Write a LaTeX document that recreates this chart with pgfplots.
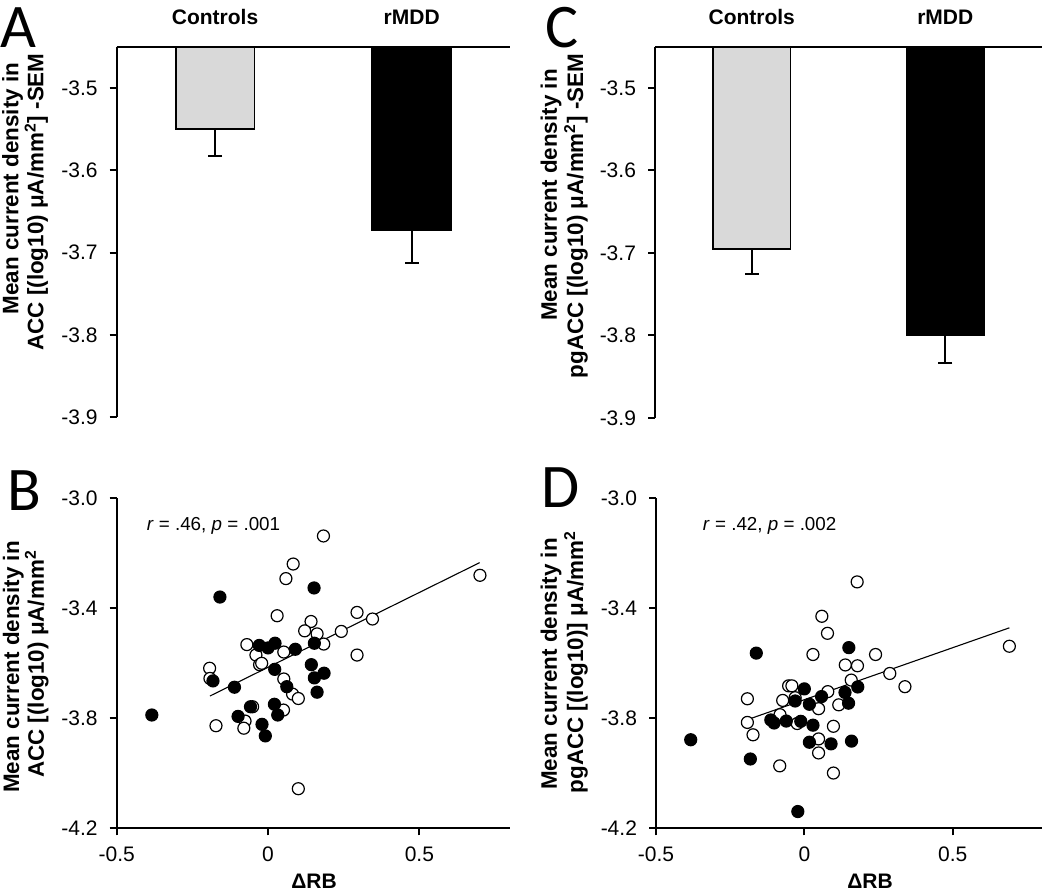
\documentclass[border=0pt]{standalone}
\usepackage{fontspec}
\setmainfont{Liberation Sans}
\newfontfamily\letterfont{Carlito}
\usepackage{pgfplots}
\pgfplotsset{compat=1.18}
\definecolor{barGray}{HTML}{D9D9D9}

\pgfplotsset{
  base/.style={
    scale only axis,
    anchor=south west,
    axis line style={line width=1pt, black},
    tick align=outside,
    major tick length=3.5pt,
    every tick/.style={line width=1pt, black},
    tick label style={font=\fontsize{10.5}{12}\selectfont},
  },
  scat/.style={base,
    axis x line*=bottom, axis y line*=left,
    xmin=-0.5, xmax=0.8, ymin=-4.2, ymax=-3.0,
    xtick={-0.5,0,0.5}, xticklabels={-0.5,0,0.5},
    ytick={-4.2,-3.8,-3.4,-3.0}, yticklabels={-4.2,-3.8,-3.4,-3.0},
    height=165pt,
    clip=false,
    x tick label style={yshift=-2pt},
    y tick label style={xshift=-2.5pt},
  },
  barax/.style={base,
    axis x line*=top, axis y line*=left,
    xmin=0, xmax=2, ymin=-3.9, ymax=-3.45,
    xtick={0.5,1.5}, xticklabels={Controls,rMDD},
    x tick label style={font=\fontsize{10.5}{12}\selectfont\bfseries, yshift=4pt},
    major x tick style={draw=none},
    ytick={-3.9,-3.8,-3.7,-3.6,-3.5}, yticklabels={-3.9,-3.8,-3.7,-3.6,-3.5},
    y tick label style={xshift=-2.5pt},
    clip=true,
  },
  opencirc/.style={only marks, mark=*, mark size=3pt, mark options={fill=white, draw=black, line width=0.6pt}},
  fillcirc/.style={only marks, mark=*, mark size=3pt, mark options={fill=black, draw=black, line width=0.6pt}},
  regline/.style={no marks, black, line width=0.55pt},
  barplot/.style={ybar, bar width=0.4, bar shift=0pt, draw=black, line width=0.85pt,
    error bars/.cd, y dir=minus, y explicit,
    error mark=-,
    error bar style={line width=1pt, black},
    error mark options={rotate=90, line width=1pt, mark size=3.5pt, black},
    /pgfplots/.cd},
}

\newcommand{\labfont}{\fontsize{11.2}{13}\selectfont\bfseries}

\begin{document}
\begin{tikzpicture}
\useasboundingbox (0,0) rectangle (525pt,445.5pt);

% ---------------- Panel A ----------------
\begin{axis}[barax, at={(58.35pt,236.85pt)}, width=196.65pt, height=185.3pt]
\addplot[fill=barGray, barplot] coordinates {(0.5,-3.550) -= (0,0.033)};
\addplot[fill=black, barplot] coordinates {(1.5,-3.673) -= (0,0.040)};
\end{axis}

% ---------------- Panel C ----------------
\begin{axis}[barax, at={(327.5pt,236.5pt)}, width=193.5pt, height=185.65pt]
\addplot[fill=barGray, barplot] coordinates {(0.5,-3.695) -= (0,0.030)};
\addplot[fill=black, barplot] coordinates {(1.5,-3.800) -= (0,0.033)};
\end{axis}

% ---------------- Panel B ----------------
\begin{axis}[scat, at={(58.35pt,31.35pt)}, width=196.75pt]
\addplot[regline] coordinates {(-0.192,-3.719) (0.699,-3.234)};
\addplot[opencirc] coordinates {
(0.183,-3.137) (0.083,-3.239) (0.059,-3.292) (0.700,-3.280) (0.030,-3.427)
(0.294,-3.415) (0.345,-3.439) (0.142,-3.448) (0.242,-3.484) (0.121,-3.482)
(0.162,-3.493) (0.184,-3.530) (-0.070,-3.532) (0.294,-3.570) (0.052,-3.559)
(-0.040,-3.570) (-0.028,-3.605) (-0.021,-3.600) (-0.193,-3.618) (-0.192,-3.655)
(0.052,-3.657) (0.081,-3.712) (0.100,-3.728) (-0.051,-3.758) (0.051,-3.770)
(-0.172,-3.827) (-0.076,-3.810) (-0.080,-3.836) (0.100,-4.056)};
\addplot[fillcirc] coordinates {
(-0.159,-3.359) (0.152,-3.326) (-0.029,-3.535) (0.000,-3.544) (0.023,-3.527)
(0.090,-3.549) (0.153,-3.527) (0.143,-3.605) (0.022,-3.622) (0.153,-3.653)
(0.185,-3.636) (-0.182,-3.664) (-0.111,-3.687) (0.062,-3.685) (0.162,-3.705)
(-0.384,-3.788) (-0.099,-3.793) (-0.058,-3.758) (0.021,-3.749) (0.032,-3.788)
(-0.020,-3.822) (-0.009,-3.864)};
\node[anchor=base west, font=\fontsize{9.4}{11}\selectfont, inner sep=0pt] at (axis cs:-0.402,-3.118) {\textit{r} = .46, \textit{p} = .001};
\end{axis}

% ---------------- Panel D ----------------
\begin{axis}[scat, at={(328pt,31.35pt)}, width=192.85pt]
\addplot[regline] coordinates {(-0.192,-3.805) (0.691,-3.471)};
\addplot[opencirc] coordinates {
(0.178,-3.304) (0.059,-3.429) (0.078,-3.491) (0.691,-3.538) (0.029,-3.568)
(0.240,-3.568) (0.138,-3.606) (0.179,-3.609) (0.288,-3.637) (0.158,-3.661)
(0.339,-3.685) (-0.053,-3.682) (-0.042,-3.682) (0.079,-3.703) (-0.192,-3.729)
(-0.073,-3.735) (-0.031,-3.725) (0.116,-3.751) (0.048,-3.765) (-0.082,-3.787)
(-0.192,-3.815) (-0.024,-3.819) (0.098,-3.829) (-0.173,-3.860) (0.048,-3.875)
(0.048,-3.926) (-0.083,-3.973) (0.098,-3.999)};
\addplot[fillcirc] coordinates {
(0.150,-3.543) (-0.162,-3.563) (0.000,-3.693) (0.180,-3.686) (0.137,-3.706)
(0.058,-3.721) (-0.031,-3.737) (0.017,-3.749) (0.149,-3.745) (-0.113,-3.806)
(-0.102,-3.817) (-0.061,-3.810) (-0.012,-3.811) (0.029,-3.825) (-0.383,-3.878)
(0.017,-3.887) (0.090,-3.893) (0.159,-3.883) (-0.182,-3.948) (-0.022,-4.139)};
\node[anchor=base west, font=\fontsize{9.4}{11}\selectfont, inner sep=0pt] at (axis cs:-0.343,-3.118) {\textit{r} = .42, \textit{p} = .002};
\end{axis}

% ---------------- Labels ----------------
\node[rotate=90, font=\labfont, inner sep=0pt] at (6.25pt,351.25pt) {Mean current density in};
\node[rotate=90, font=\labfont, inner sep=0pt] at (18.2pt,344.5pt) {ACC [(log10) μA/mm\textsuperscript{2}] -SEM};
\node[rotate=90, font=\labfont, inner sep=0pt] at (275.5pt,348pt) {Mean current density in};
\node[rotate=90, font=\labfont, inner sep=0pt] at (288pt,337.5pt) {pgACC [(log10) μA/mm\textsuperscript{2}] -SEM};
\node[rotate=90, font=\labfont, inner sep=0pt] at (6.65pt,112pt) {Mean current density in};
\node[rotate=90, font=\labfont, inner sep=0pt] at (18.35pt,113.5pt) {ACC [(log10) μA/mm\textsuperscript{2}};
\node[rotate=90, font=\labfont, inner sep=0pt] at (275.5pt,113.5pt) {Mean current density in};
\node[rotate=90, font=\labfont, inner sep=0pt] at (288pt,114.5pt) {pgACC [(log10)] μA/mm\textsuperscript{2}};

\node[anchor=base, font=\fontsize{10.5}{12}\selectfont\bfseries, inner sep=0pt] at (157pt,1.5pt) {ΔRB};
\node[anchor=base, font=\fontsize{10.5}{12}\selectfont\bfseries, inner sep=0pt] at (435pt,1.5pt) {ΔRB};

\node[anchor=base west, font=\letterfont\fontsize{31}{33}\selectfont, inner sep=0pt] at (0pt,421.5pt) {A};
\node[anchor=base west, font=\letterfont\fontsize{31}{33}\selectfont, inner sep=0pt] at (272.5pt,421.5pt) {C};
\node[anchor=base west, font=\letterfont\fontsize{31}{33}\selectfont, inner sep=0pt] at (3.5pt,190.5pt) {B};
\node[anchor=base west, font=\letterfont\fontsize{31}{33}\selectfont, inner sep=0pt] at (270.5pt,192pt) {D};
\end{tikzpicture}
\end{document}
